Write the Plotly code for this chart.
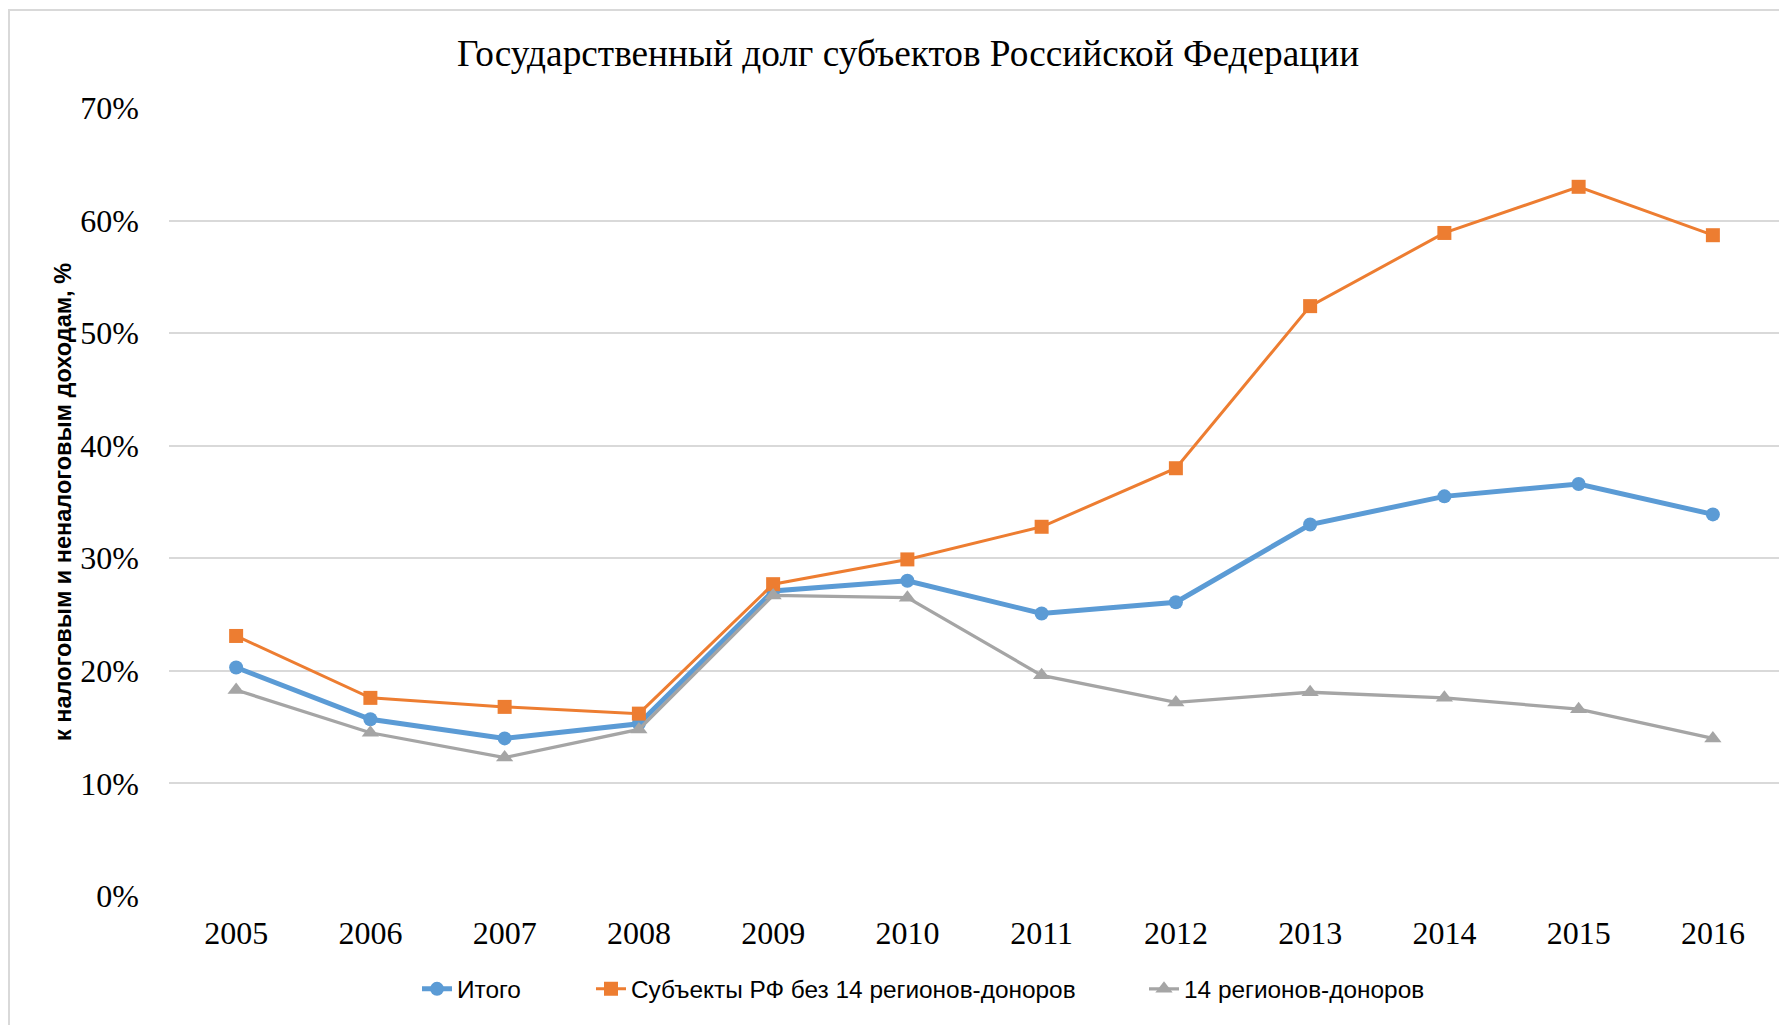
import plotly.graph_objects as go

years = ["2005", "2006", "2007", "2008", "2009", "2010", "2011", "2012", "2013", "2014", "2015", "2016"]
itogo = [0.203, 0.157, 0.140, 0.153, 0.271, 0.280, 0.251, 0.261, 0.330, 0.355, 0.366, 0.339]
bez_donorov = [0.231, 0.176, 0.168, 0.162, 0.277, 0.299, 0.328, 0.380, 0.524, 0.589, 0.630, 0.587]
donory = [0.183, 0.145, 0.123, 0.148, 0.267, 0.265, 0.196, 0.172, 0.181, 0.176, 0.166, 0.140]

names = ["Итого", "Субъекты РФ без 14 регионов-доноров", "14 регионов-доноров"]
title_text = "Государственный долг субъектов Российской Федерации"
y_title = "к налоговым и неналоговым доходам, %"
y_ticks = [0, 0.1, 0.2, 0.3, 0.4, 0.5, 0.6, 0.7]

# the page body has an 8px margin, so the figure is sized to end at the viewport edge
W, H = 1779, 1017
ML, MR, MT, MB = 161, 7, 100, 129
PW, PH = W - ML - MR, H - MT - MB
PB = H - MB  # plot bottom in figure px


def px_x(fx):
    return (fx - ML) / PW


def px_y(fy):
    return (PB - fy) / PH


fig = go.Figure()
fig.add_trace(go.Scatter(x=years, y=itogo, name=names[0], mode="lines+markers", legend="legend",
                         line=dict(color="#5B9BD5", width=5),
                         marker=dict(symbol="circle", size=14, color="#5B9BD5")))
fig.add_trace(go.Scatter(x=years, y=bez_donorov, name=names[1], mode="lines+markers", legend="legend2",
                         line=dict(color="#ED7D31", width=3),
                         marker=dict(symbol="square", size=14, color="#ED7D31")))
fig.add_trace(go.Scatter(x=years, y=donory, name=names[2], mode="lines+markers", legend="legend3",
                         line=dict(color="#A5A5A5", width=3.3),
                         marker=dict(symbol="triangle-up", size=15, color="#A5A5A5")))

leg_font = dict(family="Liberation Sans", size=24.4, color="black")


def leg(text_start):
    return dict(orientation="h", x=px_x(text_start - 40), xanchor="left", y=px_y(981), yanchor="middle",
                font=leg_font, bgcolor="rgba(0,0,0,0)")


fig.update_layout(
    width=W, height=H,
    margin=dict(l=ML, r=MR, t=MT, b=MB, autoexpand=False),
    paper_bgcolor="white", plot_bgcolor="white",
    title=dict(text=title_text, x=900 / W, xanchor="center", y=1 - 45 / H, yanchor="middle",
               font=dict(family="Liberation Serif", size=37.3, color="black")),
    xaxis=dict(type="category", range=[-0.5, len(years) - 0.5], showgrid=False, showline=False,
               zeroline=False, automargin=False,
               ticks="", tickfont=dict(family="Liberation Serif", size=32, color="black"),
               ticklabelstandoff=15),
    yaxis=dict(range=[0, 0.7], tickvals=y_ticks, tickformat=".0%", automargin=False,
               showgrid=True, gridcolor="#D9D9D9", gridwidth=2, zeroline=False, showline=False,
               ticks="", tickfont=dict(family="Liberation Serif", size=32, color="black"),
               ticklabelstandoff=29),
    legend=leg(449),
    legend2=leg(623),
    legend3=leg(1176),
    showlegend=True,
)

fig.add_annotation(text=y_title, textangle=-90, xref="paper", yref="paper",
                   x=px_x(55), y=0.5, xanchor="center", yanchor="middle", showarrow=False,
                   font=dict(family="Liberation Sans", size=23.5, color="black", weight="bold"))

# chart area border
fig.add_shape(type="rect", xref="paper", yref="paper",
              x0=px_x(1), x1=px_x(W + 5), y0=px_y(H + 5), y1=px_y(2),
              line=dict(color="#D9D9D9", width=2), fillcolor="rgba(0,0,0,0)", layer="below")

fig.write_html("out.html")
